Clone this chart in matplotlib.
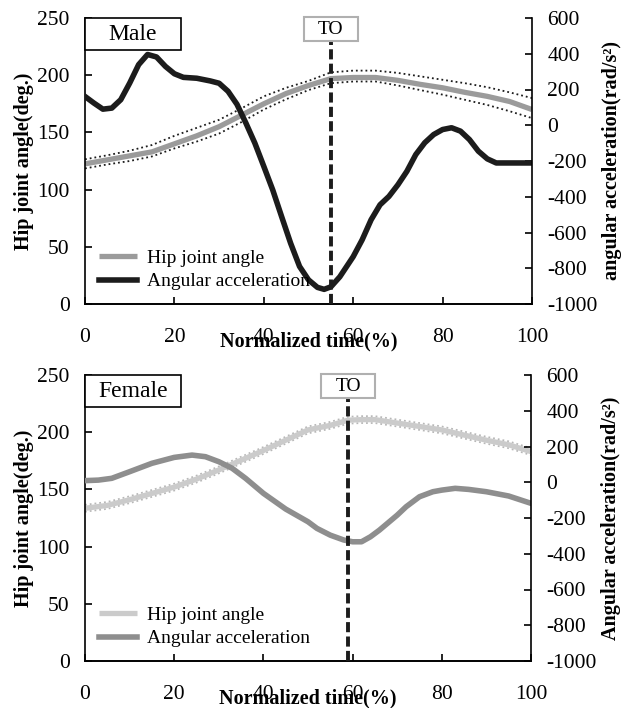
import matplotlib
matplotlib.use('Agg')
import matplotlib.pyplot as plt
from matplotlib.patches import Rectangle
import matplotlib.transforms as mtransforms

plt.rcParams['font.family'] = ['Liberation Serif', 'DejaVu Serif']
plt.rcParams['axes.unicode_minus'] = False

# ---- male data ----
male_ang_x = [0, 5, 10, 15, 20, 25, 30, 35, 40, 45, 50, 55, 60, 65, 70, 75, 80, 85, 90, 95, 100]
male_ang = [122.5, 126, 129.5, 133, 140, 147, 155, 165, 175, 184, 191, 197, 198, 198, 195.5, 192, 189, 185, 181.5, 177, 170]
male_ang_hi = [126.5, 130, 134, 139, 147, 154, 161, 171, 181.5, 189, 195, 202.5, 204, 204, 202, 199, 196, 193, 189.5, 185, 180]
male_ang_lo = [118.5, 122, 125, 129, 136, 142, 149, 159, 170, 179, 187, 193, 194.5, 194.5, 191, 187, 183, 178.5, 174, 168.5, 162.5]

male_acc_x = [0, 2, 4, 6, 8, 10, 12, 14, 16, 18, 20, 22, 25, 28, 30, 32, 34, 36, 38, 40, 42, 44, 46, 48,
              50, 52, 53.5, 55, 57, 60, 62, 64, 66, 68, 70, 72, 74, 76, 78, 80, 82, 84, 86, 88, 90, 92, 94, 100]
male_acc = [161, 124, 90, 96, 143, 236, 339, 396, 382, 329, 288, 268, 263, 248, 235, 190, 117, 12, -100, -230,
            -362, -512, -660, -790, -865, -907, -918, -904, -848, -735, -641, -529, -445, -398, -333, -258,
            -164, -98, -52, -24, -14, -33, -80, -145, -188, -211, -211, -211]
male_to = 55

# ---- female data ----
fem_ang_x = [0, 5, 10, 15, 20, 25, 30, 35, 40, 45, 50, 55, 59, 62, 65, 70, 75, 80, 85, 90, 95, 100]
fem_ang = [133.5, 136, 141, 146.5, 152, 159, 167, 175.5, 184, 193, 202, 206, 210.5, 211, 211, 208, 205, 202, 197.5, 193, 189, 183]
fem_ang_hi = [136.5, 139, 144, 149.5, 155, 162, 170, 178.5, 187, 196, 205, 209, 213.5, 214, 214, 211, 208, 205, 200.5, 196, 192, 186]
fem_ang_lo = [130.5, 133, 138, 143.5, 149, 156, 164, 172.5, 181, 190, 199, 203, 207.5, 208, 208, 205, 202, 199, 194.5, 190, 186, 180]

fem_acc_x = [0, 3, 6, 10, 15, 20, 24, 27, 30, 33, 36, 40, 45, 50, 52, 55, 58, 60, 62, 64, 66, 68, 70, 72,
             75, 78, 80, 83, 86, 90, 95, 100]
fem_acc = [9, 12, 22, 59, 106, 139, 152, 143, 115, 78, 22, -62, -150, -221, -258, -296, -323, -333, -333,
           -305, -268, -226, -184, -137, -81, -53, -44, -34, -40, -53, -77, -118]
fem_to = 59

panels = [
    dict(name='Male', ax_pos=[85/624, 1-304/708, 447/624, 286/708],
         ax_x=male_ang_x, ang=male_ang, hi=male_ang_hi, lo=male_ang_lo,
         acc_x=male_acc_x, acc=male_acc, to=male_to,
         c_ang='#9b9b9b', c_acc='#1c1c1c', c_dot='#1c1c1c',
         rlabel='angular acceleration(rad/s²)'),
    dict(name='Female', ax_pos=[85/624, 1-661/708, 446/624, 286/708],
         ax_x=fem_ang_x, ang=fem_ang, hi=fem_ang_hi, lo=fem_ang_lo,
         acc_x=fem_acc_x, acc=fem_acc, to=fem_to,
         c_ang='#cbcbcb', c_acc='#8e8e8e', c_dot='#b8b8b8',
         rlabel='Angular acceleration(rad/s²)'),
]

fig = plt.figure(figsize=(6.24, 7.08), dpi=100)

for p in panels:
    ax = fig.add_axes(p['ax_pos'])
    ax2 = ax.twinx()

    ax.plot(p['ax_x'], p['hi'], ls=':', lw=1.3, color=p['c_dot'])
    ax.plot(p['ax_x'], p['lo'], ls=':', lw=1.3, color=p['c_dot'])
    l1, = ax.plot(p['ax_x'], p['ang'], lw=3.8, color=p['c_ang'], solid_capstyle='butt')
    l2, = ax2.plot(p['acc_x'], p['acc'], lw=4.0, color=p['c_acc'])

    ax.set_xlim(0, 100)
    ax.set_ylim(0, 250)
    ax2.set_ylim(-1000, 600)
    ax.set_xticks([0, 20, 40, 60, 80, 100])
    ax.set_yticks([0, 50, 100, 150, 200, 250])
    ax2.set_yticks(range(-1000, 601, 200))

    for a in (ax, ax2):
        a.spines['top'].set_visible(False)
    ax.spines['right'].set_visible(False)
    ax2.spines['left'].set_visible(False)
    for a in (ax, ax2):
        for s in a.spines.values():
            s.set_linewidth(1.2)

    ax.tick_params(axis='x', direction='in', length=5, width=1.2, pad=17, labelsize=15.5)
    ax.tick_params(axis='y', direction='in', length=5, width=1.2, pad=11, labelsize=15.5)
    ax2.tick_params(axis='y', direction='in', length=5, width=1.2, pad=11, labelsize=15.5)

    ax.set_ylabel('Hip joint angle(deg.)', fontsize=14.5, fontweight='bold', labelpad=2)
    ax2.set_ylabel(p['rlabel'], fontsize=14.5, fontweight='bold', labelpad=3)
    ax.set_xlabel('Normalized time(%)', fontsize=14.5, fontweight='bold', labelpad=-11)

    # toe-off line
    ax2.axvline(p['to'], ymin=0, ymax=0.915, color='#1c1c1c', lw=2.8, dashes=(2.6, 1.1), zorder=5)

    # TO box
    trans = mtransforms.blended_transform_factory(ax.transData, ax.transAxes)
    ax2.add_patch(Rectangle((p['to'] - 6, 0.92), 12, 0.082, transform=trans, facecolor='white',
                            edgecolor='#b0b0b0', lw=1.5, clip_on=False, zorder=6))
    ax2.text(p['to'], 0.961, 'TO', transform=trans, ha='center', va='center', fontsize=14, zorder=7)

    # name box
    ax2.add_patch(Rectangle((0, 0.888), 0.215, 0.112, transform=ax.transAxes, facecolor='white',
                            edgecolor='black', lw=1.2, clip_on=False, zorder=6))
    ax2.text(0.1075, 0.944, p['name'], transform=ax.transAxes, ha='center', va='center',
             fontsize=17, zorder=7)

    ax2.legend([l1, l2], ['Hip joint angle', 'Angular acceleration'], loc='lower left',
               bbox_to_anchor=(0.0, 0.0), frameon=False, fontsize=14, handlelength=2.0,
               handletextpad=0.5, labelspacing=0.3, borderaxespad=0.3)

fig.savefig('out.png', dpi=100)
